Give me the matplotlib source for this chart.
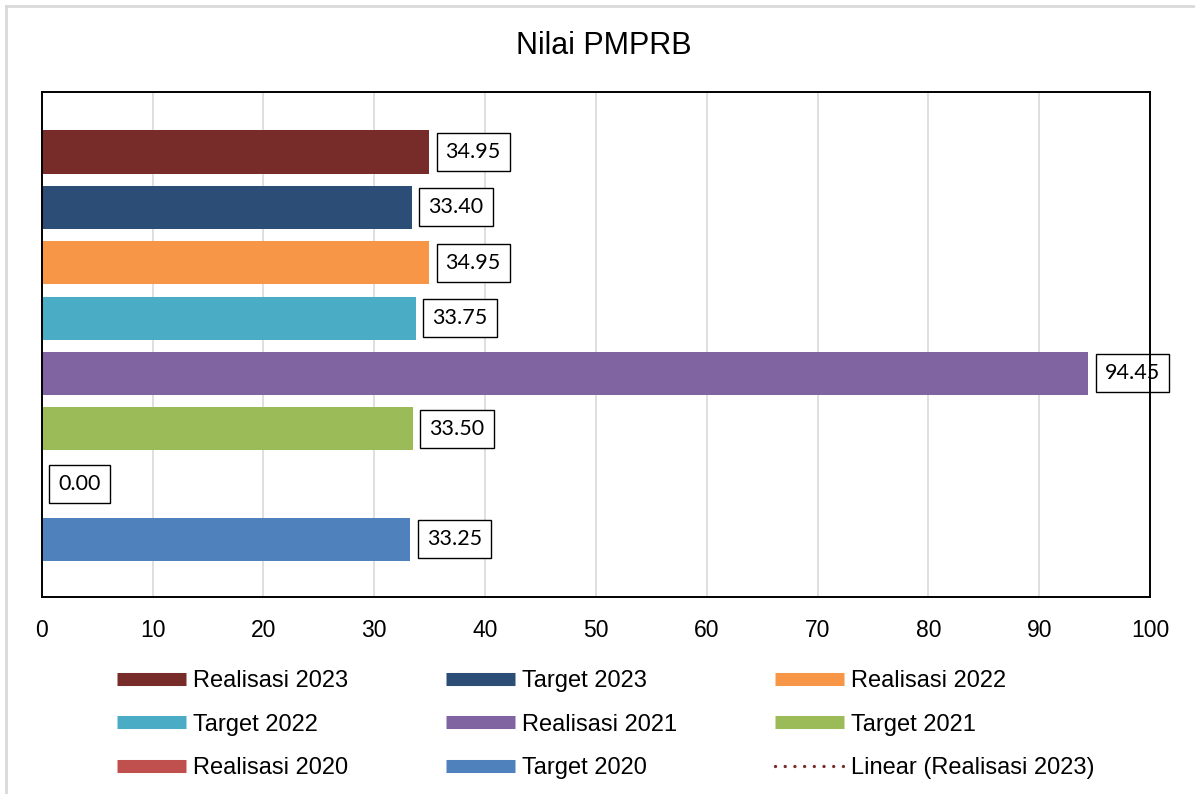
import matplotlib
matplotlib.use("Agg")
import matplotlib.pyplot as plt
from matplotlib.lines import Line2D

# ---- data ----
series = ["Realisasi 2023", "Target 2023", "Realisasi 2022", "Target 2022",
          "Realisasi 2021", "Target 2021", "Realisasi 2020", "Target 2020"]
values = [34.95, 33.40, 34.95, 33.75, 94.45, 33.50, 0.00, 33.25]
colors = ["#772C2A", "#2C4D75", "#F79646", "#4BACC6",
          "#8064A2", "#9BBB59", "#C0504D", "#4F81BD"]
xticks = [0, 10, 20, 30, 40, 50, 60, 70, 80, 90, 100]
title = "Nilai PMPRB"
trend_label = "Linear (Realisasi 2023)"

W, H = 1195, 794
fig = plt.figure(figsize=(W / 100, H / 100), dpi=100)
ax = fig.add_axes([41.7 / W, 1 - 597 / H, (1150 - 41.7) / W, (597 - 92.3) / H])

n = len(series)
ypos = [n - 1 - i for i in range(n)]
ax.barh(ypos, values, height=0.78, color=colors, zorder=1)

for y, v in zip(ypos, values):
    ax.annotate(f"{v:.2f}", xy=(v, y), xytext=(16.5, 0), textcoords="offset pixels",
                ha="left", va="center", fontsize=15.5, family=["Lato", "DejaVu Sans"],
                bbox=dict(boxstyle="square,pad=0.42", fc="white", ec="black", lw=1.0),
                zorder=2, annotation_clip=False)

ax.set_xlim(0, 100)
ax.set_ylim(-1.04, 8.08)
ax.set_xticks(xticks)
ax.set_xticklabels([str(t) for t in xticks], fontsize=16.5, family="Liberation Sans")
ax.set_yticks([])
ax.tick_params(axis="x", length=0, pad=15.5)
ax.grid(axis="x", color="#D9D9D9", lw=1.2)
ax.set_axisbelow(True)
for s in ax.spines.values():
    s.set_color("black")
    s.set_linewidth(1.4)
    s.set_zorder(3)

fig.text(603.5 / W, 1 - 54 / H, title, ha="center", va="baseline",
         fontsize=22, family="Liberation Sans")

# legend (row-major order -> reorder for column-major fill)
handles = [Line2D([], [], color=c, lw=9.4, solid_capstyle="butt") for c in colors]
handles.append(Line2D([], [], color=colors[0], lw=2.4, ls=(0, (0.01, 2.9)),
                      dash_capstyle="round"))
labels = series + [trend_label]
ncol = 3
order = []
for c in range(ncol):
    order += list(range(c, len(labels), ncol))
leg = fig.legend([handles[i] for i in order], [labels[i] for i in order],
                 loc="upper left", bbox_to_anchor=(117 / W, 1 - 670 / H),
                 ncol=ncol, frameon=False, borderpad=0, borderaxespad=0,
                 handlelength=2.92, handletextpad=0.3, columnspacing=4.15,
                 labelspacing=0.92, prop={"family": "Liberation Sans", "size": 17})

# outer chart frame (left/top visible)
fig.add_artist(Line2D([5.5 / W, 5.5 / W], [0, 1 - 5.5 / H], color="#D9D9D9", lw=2,
                      transform=fig.transFigure))
fig.add_artist(Line2D([5.5 / W, 1], [1 - 5.5 / H, 1 - 5.5 / H], color="#D9D9D9", lw=2,
                      transform=fig.transFigure))

fig.savefig("out.png", dpi=100, facecolor="white")
